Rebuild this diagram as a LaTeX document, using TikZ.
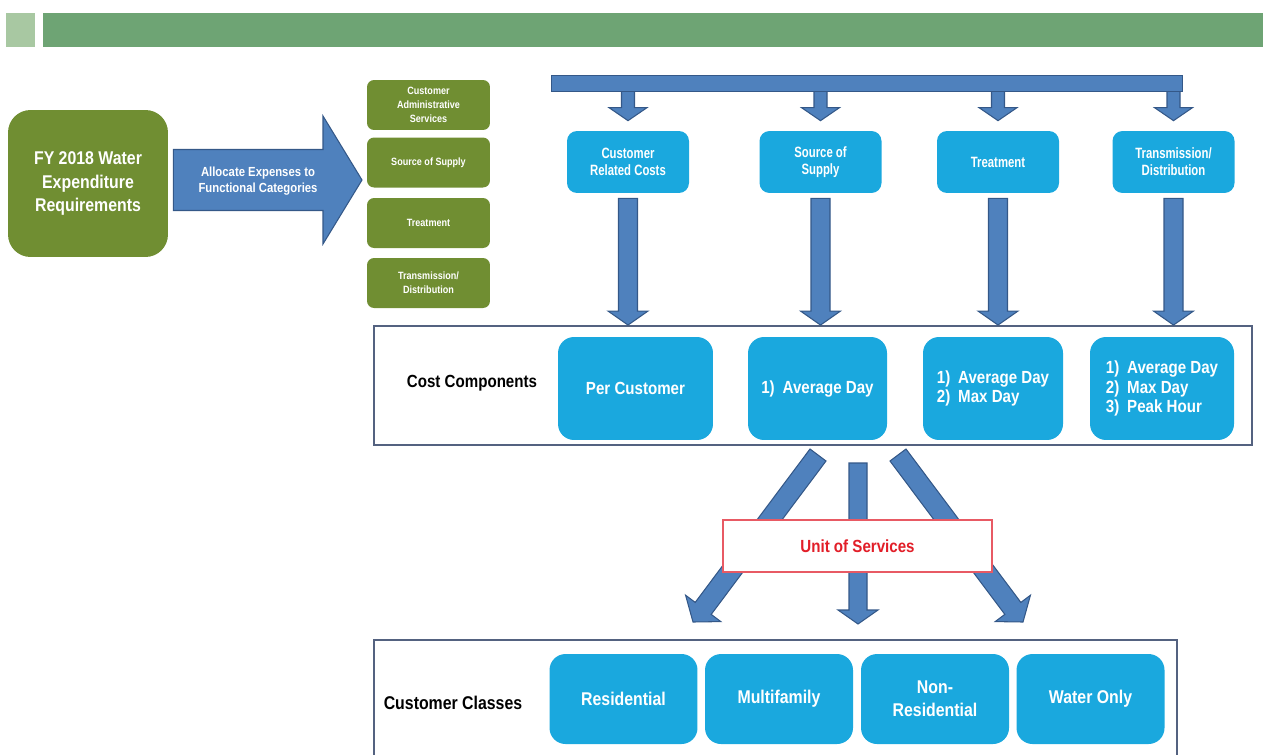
\documentclass[tikz,border=0pt]{standalone}
\usepackage{fontspec}
\setmainfont{Liberation Sans}
\newfontfamily\narrowsans{Liberation Sans}[FakeStretch=0.86]
\newfontfamily\tightsans{Liberation Sans}[FakeStretch=0.76]
\usetikzlibrary{calc}

\definecolor{olivebox}{RGB}{112,142,50}
\definecolor{aquabox}{RGB}{26,168,222}
\definecolor{arrowfill}{RGB}{79,129,189}
\definecolor{arrowedge}{RGB}{52,88,136}
\definecolor{headbar}{RGB}{110,164,116}
\definecolor{headsq}{RGB}{168,200,162}
\definecolor{framegray}{RGB}{84,98,128}
\definecolor{unitred}{RGB}{226,30,40}
\definecolor{unitedge}{RGB}{232,90,100}

% block arrow from #1 to the tip #2: shaft half-width #3, head half-width #4, head length #5
\newcommand{\blockarrow}[5]{%
  \coordinate (ba-neck) at ($(#2)!#5!(#1)$);
  \filldraw[barrowshape]
    ($(#1)!#3!90:(#2)$) -- ($(ba-neck)!#3!90:(#2)$) -- ($(ba-neck)!#4!90:(#2)$)
    -- (#2) --
    ($(ba-neck)!#4!-90:(#2)$) -- ($(ba-neck)!#3!-90:(#2)$) -- ($(#1)!#3!-90:(#2)$) -- cycle;
}

\begin{document}
\begin{tikzpicture}[x=0.02cm,y=-0.02cm,
  olivebig/.style={fill=olivebox, rounded corners=0.45cm, minimum width=3.2cm, minimum height=2.94cm,
    inner sep=0pt, text=white, align=center, font=\narrowsans\bfseries\fontsize{10.5}{13.5}\selectfont},
  olivesmall/.style={fill=olivebox, rounded corners=0.14cm, minimum width=2.46cm, minimum height=1cm,
    inner sep=0pt, text=white, align=center, font=\narrowsans\bfseries\fontsize{6}{8}\selectfont},
  aquatop/.style={fill=aquabox, rounded corners=0.2cm, minimum width=2.44cm, minimum height=1.24cm,
    inner sep=0pt, text=white, align=center, font=\tightsans\bfseries\fontsize{8.5}{9.5}\selectfont},
  aquamid/.style={fill=aquabox, rounded corners=0.32cm, minimum height=2.06cm,
    inner sep=0pt, text=white, align=left, font=\narrowsans\bfseries\fontsize{10}{11}\selectfont},
  aqualow/.style={fill=aquabox, rounded corners=0.32cm, minimum width=2.96cm, minimum height=1.8cm,
    inner sep=0pt, text=white, align=center, font=\narrowsans\bfseries\fontsize{10.5}{13}\selectfont},
  groupframe/.style={draw=framegray, line width=1.1pt, fill=white, inner sep=0pt},
  rowlabel/.style={text=black, font=\narrowsans\bfseries\fontsize{10}{12}\selectfont},
  barrowshape/.style={fill=arrowfill, draw=arrowedge, line width=0.6pt, line join=miter},
  hbox/.style={inner sep=0pt, minimum height=0.68cm},
]
\useasboundingbox (0,0) rectangle (1263,754);

% title band
\node[hbox, fill=headsq, minimum width=0.58cm] (hsq) at (20.5,30) {};
\node[hbox, fill=headbar, minimum width=24.4cm] (hbar) at (653,30) {};

% expenditure block and allocation arrow
\node[olivebig] (fy) at (88,183.5) {FY 2018 Water\\Expenditure\\Requirements};
\coordinate (alloctip) at (362,180);
\coordinate (allocstart) at ($(fy.east |- alloctip)+(5,0)$);
\blockarrow{allocstart}{alloctip}{0.61cm}{1.28cm}{0.78cm}
\node[text=white, align=center, font=\narrowsans\bfseries\fontsize{7.5}{9.5}\selectfont]
  (alloctext) at (258,181) {Allocate Expenses to\\Functional Categories};

% functional categories
\node[olivesmall] (fc1) at (428.5,105) {Customer\\Administrative\\Services};
\node[olivesmall] (fc2) at (428.5,162.5) {Source of Supply};
\node[olivesmall] (fc3) at (428.5,223) {Treatment};
\node[olivesmall] (fc4) at (428.5,283) {Transmission/\\Distribution};

% cost categories
\node[aquatop] (cc1) at (628,162) {Customer\\Related Costs};
\node[aquatop] (cc2) at (820.5,162) {Source of\\Supply};
\node[aquatop] (cc3) at (998,162) {Treatment};
\node[aquatop] (cc4) at (1173.5,162) {Transmission/\\Distribution};

% distribution bar feeding the cost categories
\node[inner sep=0pt, minimum width=12.6cm, minimum height=0.32cm] (bar) at (867,83.5) {};
\foreach \k in {1,2,3,4}{
  \coordinate (bs\k) at (bar.center -| cc\k);
  \coordinate (bt\k) at ($(cc\k.north)+(0,-10)$);
  \blockarrow{bs\k}{bt\k}{0.13cm}{0.38cm}{0.26cm}
}
\filldraw[barrowshape] (bar.south west) rectangle (bar.north east);

% cost components
\node[groupframe, minimum width=17.56cm, minimum height=2.38cm] (ccf) at (813,385.5) {};
\foreach \k in {1,2,3,4}{
  \coordinate (ds\k) at ($(cc\k.south)+(0,5)$);
  \coordinate (dt\k) at (cc\k.south |- ccf.north);
  \blockarrow{ds\k}{dt\k}{0.19cm}{0.4cm}{0.28cm}
}
\node[rowlabel] (cclabel) at (472,383) {Cost Components};
\node[aquamid, minimum width=3.1cm, align=center] (cp1) at (635.5,388.5) {Per Customer};
\node[aquamid, minimum width=2.78cm] (cp2) at (817.5,388.5) {1)\hspace{0.45em}Average Day};
\node[aquamid, minimum width=2.8cm] (cp3) at (993,388.5) {1)\hspace{0.45em}Average Day\\2)\hspace{0.45em}Max Day};
\node[aquamid, minimum width=2.88cm] (cp4) at (1162,388.5) {1)\hspace{0.45em}Average Day\\2)\hspace{0.45em}Max Day\\3)\hspace{0.45em}Peak Hour};

% units of service fan-out
\coordinate (us1) at (818,455);
\coordinate (us2) at (858,463);
\coordinate (us3) at (898,455);
\coordinate (ut1) at (693,622);
\coordinate (ut2) at (858,624);
\coordinate (ut3) at (1023,622);
\blockarrow{us1}{ut1}{0.2cm}{0.44cm}{0.34cm}
\blockarrow{us2}{ut2}{0.18cm}{0.4cm}{0.28cm}
\blockarrow{us3}{ut3}{0.2cm}{0.44cm}{0.34cm}
\node[draw=unitedge, line width=0.8pt, fill=white, minimum width=5.38cm, minimum height=1.04cm,
  inner sep=0pt, text=unitred, font=\narrowsans\bfseries\fontsize{10}{12}\selectfont]
  (units) at (857.5,546) {Unit of Services};

% customer classes
\node[groupframe, minimum width=16.06cm, minimum height=2.4cm] (clf) at (775.5,700) {};
\node[rowlabel, font=\narrowsans\bfseries\fontsize{10.5}{12}\selectfont] (cllabel) at (453,703) {Customer Classes};
\node[aqualow] (cl1) at (623.5,699) {Residential};
\node[aqualow] (cl2) at (779,699) {Multifamily};
\node[aqualow] (cl3) at (935,699) {Non-\\Residential};
\node[aqualow] (cl4) at (1090.5,699) {Water Only};
\end{tikzpicture}
\end{document}
